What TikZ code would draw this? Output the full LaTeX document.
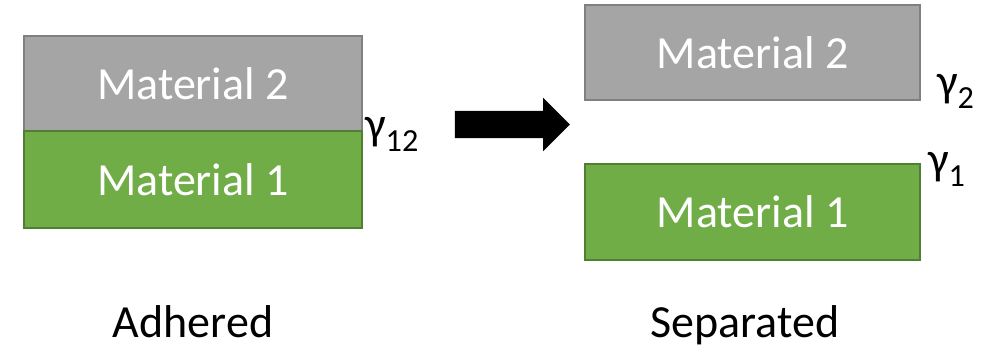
\documentclass[tikz,border=0pt]{standalone}
\usepackage{fontspec}
\setmainfont{Carlito}
\usetikzlibrary{shapes.arrows}
\definecolor{matgray}{RGB}{165,165,165}
\definecolor{matgrayline}{RGB}{128,128,128}
\definecolor{matgreen}{RGB}{112,173,71}
\definecolor{matgreenline}{RGB}{80,126,50}
\tikzstyle{matbox} = [rectangle, draw, line width=1.5pt, text=white,
    inner sep=0pt, font=\fontsize{46}{46}\selectfont]
\tikzstyle{top} = [matbox, fill=matgray, draw=matgrayline]
\tikzstyle{bottom} = [matbox, fill=matgreen, draw=matgreenline]
\tikzstyle{energy} = [anchor=base west, inner sep=0pt,
    font=\fontsize{46}{46}\selectfont]
\tikzstyle{caption} = [anchor=base, inner sep=0pt,
    font=\fontsize{46}{46}\selectfont]

\begin{document}
\begin{tikzpicture}[x=1pt, y=-1pt]
  \useasboundingbox (0,0) rectangle (992,348);
  \node [top, minimum width=338pt, minimum height=95pt] (mat2_adh)
    at (193,83.5) {Material 2};
  \node [bottom, minimum width=338pt, minimum height=97pt] (mat1_adh)
    at (193,179.5) {Material 1};
  \node [top, minimum width=335pt, minimum height=95pt] (mat2_sep)
    at (752.5,52.5) {Material 2};
  \node [bottom, minimum width=335pt, minimum height=96pt] (mat1_sep)
    at (752.5,212) {Material 1};
  \node [single arrow, fill=black, inner xsep=0pt, inner ysep=13.5pt,
    minimum height=115pt, minimum width=53pt,
    single arrow head extend=13pt] (split_arrow) at (505.5,124.5) {};
  \node [energy] (gamma12) at (365,139) {γ\textsubscript{12}};
  \node [energy] (gamma2) at (937,96) {γ\textsubscript{2}};
  \node [energy] (gamma1) at (928,174) {γ\textsubscript{1}};
  \node [caption] (adhered) at (193,337) {Adhered};
  \node [caption] (separated) at (745,337) {Separated};
\end{tikzpicture}
\end{document}
